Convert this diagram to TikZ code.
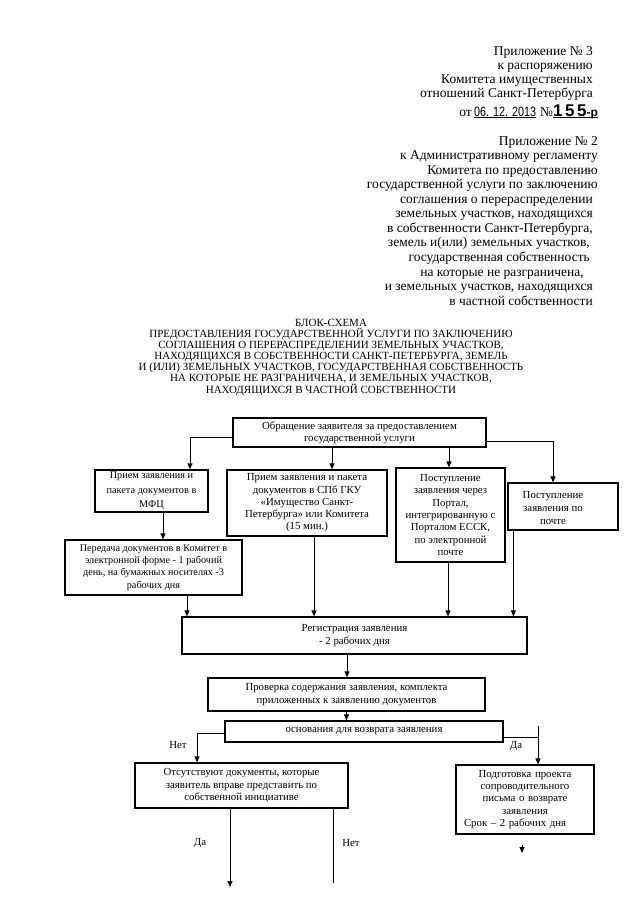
\documentclass[tikz,border=0pt]{standalone}
\usepackage{fontspec}
\setmainfont{Liberation Serif}
\newfontfamily\stampsans{Liberation Sans}
\usepackage{graphicx}
\usetikzlibrary{arrows.meta,calc}
\begin{document}
\begin{tikzpicture}[x=1pt,y=-1pt,
  box/.style={draw, line width=1.2pt, inner sep=0pt, align=center, font=\fontsize{10.8}{12.3}\selectfont},
  hdr/.style={anchor=base east, inner sep=0pt, font=\fontsize{13.5}{14.5}\selectfont},
  conn/.style={line width=0.95pt},
  arr/.style={conn, -{Triangle[width=5pt,length=6pt]}},
  lbl/.style={inner sep=0pt, font=\fontsize{10.8}{12}\selectfont},
]
\useasboundingbox[fill=white] (0,0) rectangle (640,905);

% header block 1
\node[hdr] (h1) at (593,55) {Приложение № 3};
\node[hdr] (h2) at (593,69) {к распоряжению};
\node[hdr] (h3) at (593,83) {Комитета имущественных};
\node[hdr] (h4) at (593,97) {отношений Санкт-Петербурга};
\node[hdr] (ot) at (472,116) {от};
\node[anchor=base west, inner sep=0pt, font=\stampsans\fontsize{13.5}{14}\selectfont] (dt) at (474,116) {\scalebox{0.8}[1]{06. 12. 2013}};
\node[hdr, anchor=base west] (no) at (540,116) {№};
\node[anchor=base west, inner sep=0pt, font=\stampsans\bfseries\fontsize{17}{18}\selectfont] (num) at (553,116) {1\hspace{2.5pt}5\hspace{2.5pt}5\fontsize{12}{12}\selectfont-р};
\draw[line width=0.8pt] ([yshift=-1.8pt]dt.base west) -- ([yshift=-1.8pt]dt.base east);
\draw[line width=0.8pt] ([yshift=-1.8pt]num.base west) -- ([yshift=-1.8pt]num.base east);

% header block 2
\node[hdr] (g1) at (598,145) {Приложение № 2};
\node[hdr] (g2) at (598,159.5) {к Административному регламенту};
\node[hdr] (g3) at (598,174) {Комитета по предоставлению};
\node[hdr] (g4) at (598,188.6) {государственной услуги по заключению};
\node[hdr] (g5) at (593,203.2) {соглашения о перераспределении};
\node[hdr] (g6) at (593,217.7) {земельных участков, находящихся};
\node[hdr] (g7) at (593,232.3) {в собственности Санкт-Петербурга,};
\node[hdr] (g8) at (590,246.8) {земель и(или) земельных участков,};
\node[hdr] (g9) at (590,261.4) {государственная собственность};
\node[hdr] (g10) at (584,276) {на которые не разграничена,};
\node[hdr] (g11) at (593,290.5) {и земельных участков, находящихся};
\node[hdr] (g12) at (593,305) {в частной собственности};

% title
\node[align=center, inner sep=0pt, font=\fontsize{11}{10.9}\selectfont] (title) at (331,357.5)
  {БЛОК-СХЕМА\\
   ПРЕДОСТАВЛЕНИЯ ГОСУДАРСТВЕННОЙ УСЛУГИ ПО ЗАКЛЮЧЕНИЮ\\
   СОГЛАШЕНИЯ О ПЕРЕРАСПРЕДЕЛЕНИИ ЗЕМЕЛЬНЫХ УЧАСТКОВ,\\
   НАХОДЯЩИХСЯ В СОБСТВЕННОСТИ САНКТ-ПЕТЕРБУРГА, ЗЕМЕЛЬ\\
   И (ИЛИ) ЗЕМЕЛЬНЫХ УЧАСТКОВ, ГОСУДАРСТВЕННАЯ СОБСТВЕННОСТЬ\\
   НА КОТОРЫЕ НЕ РАЗГРАНИЧЕНА, И ЗЕМЕЛЬНЫХ УЧАСТКОВ,\\
   НАХОДЯЩИХСЯ В ЧАСТНОЙ СОБСТВЕННОСТИ};

% boxes
\node[box, minimum width=253pt, minimum height=29pt] (A) at (359.5,432.5)
  {Обращение заявителя за предоставлением\\государственной услуги};
\node[box, minimum width=113pt, minimum height=42pt, font=\fontsize{10.3}{12.3}\selectfont] (B) at (151.5,491)
  {Прием заявления и\\[2pt]пакета документов в\\[2pt]МФЦ};
\node[box, minimum width=160pt, minimum height=66pt] (C) at (307,503)
  {Прием заявления и пакета\\документов в СПб ГКУ\\«Имущество Санкт-\\Петербурга» или Комитета\\(15 мин.)};
\node[box, minimum width=109pt, minimum height=94pt] (D) at (450.5,515)
  {Поступление\\заявления через\\Портал,\\интегрированную с\\Порталом ЕССК,\\по электронной\\почте};
\node[box, minimum width=110pt, minimum height=47pt] (E) at (563,506.5) {};
\node[align=center, inner sep=0pt, font=\fontsize{10.8}{12.8}\selectfont] (Et) at (553,508)
  {Поступление\\заявления по\\почте};
\node[box, minimum width=177pt, minimum height=55pt, font=\fontsize{10.2}{12.3}\selectfont] (F) at (153.5,567.5)
  {Передача документов в Комитет в\\электронной форме - 1 рабочий\\день, на бумажных носителях -3\\рабочих дня};
\node[box, minimum width=345pt, minimum height=37pt] (G) at (354.5,635.5)
  {Регистрация заявления\\- 2 рабочих дня};
\node[box, minimum width=277pt, minimum height=33pt] (H) at (346.5,694.5)
  {Проверка содержания заявления, комплекта\\приложенных к заявлению документов};
\node[box, minimum width=278pt, minimum height=21pt] (I) at (364,731.5)
  {основания для возврата заявления};
\node[box, minimum width=213pt, minimum height=45pt] (J) at (241.5,785.5)
  {Отсутствуют документы, которые\\заявитель вправе представить по\\собственной инициативе};
\node[box, minimum width=138pt, minimum height=69pt, text width=138pt] (K) at (525,799.5)
  {Подготовка проекта\\сопроводительного\\письма о возврате\\заявления\\\makebox[\linewidth][l]{\hspace{8pt}Срок – 2 рабочих дня}};

% connectors from A
\draw[arr] ([yshift=-5pt]A.west) -| ([xshift=38.5pt]B.north);
\draw[arr] ([xshift=25pt]C.north |- A.south) -- ([xshift=25pt]C.north);
\draw[arr] ([xshift=-1.5pt]D.north |- A.south) -- ([xshift=-1.5pt]D.north);
\draw[arr] ([yshift=-8.5pt]A.east) -| ([xshift=-10pt]E.north);
\draw[arr] ([xshift=11.5pt]B.south) -- ([xshift=11.5pt]B.south |- F.north);

% into G
\draw[arr] ([xshift=33.5pt]F.south) -- ([xshift=33.5pt]F.south |- G.north);
\draw[arr] ([xshift=7pt]C.south) -- ([xshift=7pt]C.south |- G.north);
\draw[arr] ([xshift=-2.5pt]D.south) -- ([xshift=-2.5pt]D.south |- G.north);
\draw[arr] ([xshift=6pt]E.south west) -- ([xshift=6pt]E.south west |- G.north);

\draw[arr] ([xshift=-7.5pt]G.south) -- ([xshift=-7.5pt]G.south |- H.north);
\draw[arr] (H.south) -- (H.south |- I.north);

% decision
\draw[arr] ([yshift=-1.5pt]I.west) -| ([xshift=-44.5pt]J.north);
\coordinate (tk) at (538,726);
\draw[conn] ([yshift=-5.5pt]I.east) -| (tk);
\draw[arr] (tk) -- (tk |- K.north);
\node[lbl] (net1) at (178,745) {Нет};
\node[lbl] (da1) at (516,746) {Да};

% below J
\coordinate (jda) at (230,887);
\coordinate (jnet) at (333,883);
\draw[arr] ([xshift=-11.5pt]J.south) -- (jda);
\draw[conn] ([xshift=91.5pt]J.south) -- (jnet);
\node[lbl] (da2) at (200,843) {Да};
\node[lbl] (net2) at (351,843) {Нет};

% below K
\coordinate (k1) at (522,845);
\coordinate (k2) at (522,853);
\draw[arr] (k1) -- (k2);
\end{tikzpicture}
\end{document}
